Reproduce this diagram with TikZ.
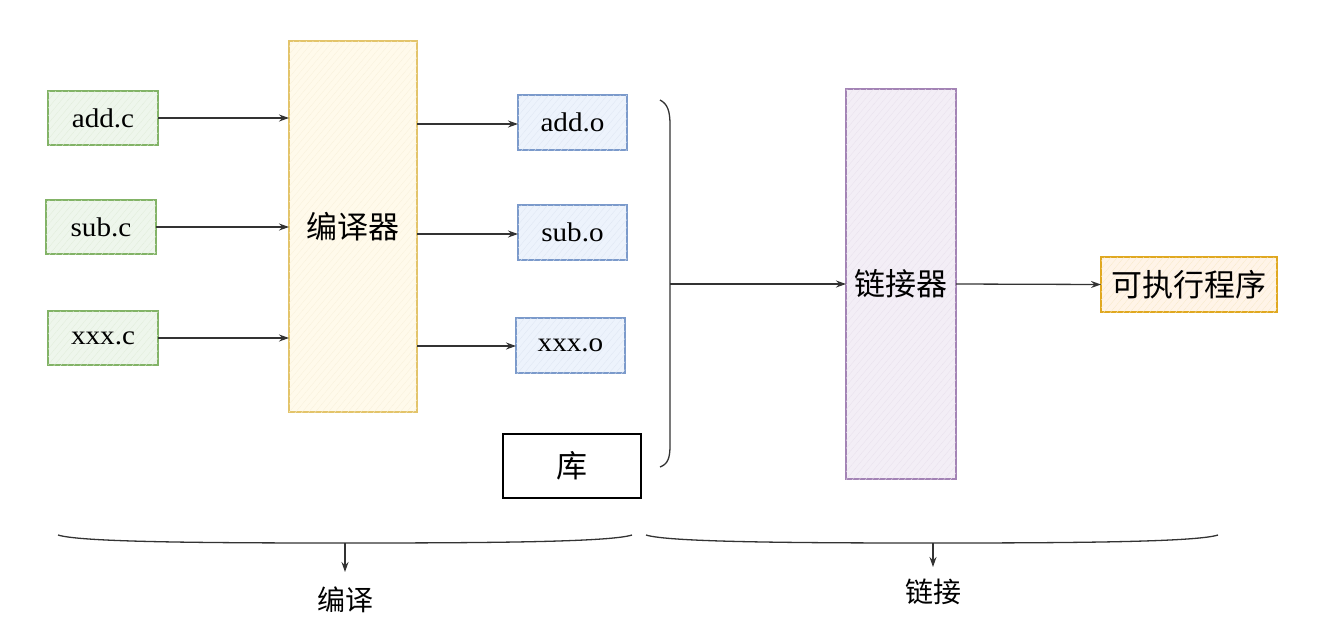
\documentclass[tikz,border=0pt]{standalone}
\usepackage{fontspec}
\newfontfamily\lat[FakeStretch=1.08]{Liberation Serif}
\newfontfamily\cjk{Noto Sans CJK SC}
\usetikzlibrary{arrows.meta,patterns.meta}
\definecolor{gB}{HTML}{82B366}\definecolor{gF}{HTML}{EEF6EC}
\definecolor{yB}{HTML}{E3C46A}\definecolor{yF}{HTML}{FFFAEB}
\definecolor{bB}{HTML}{7B9ACB}\definecolor{bF}{HTML}{EDF3FC}
\definecolor{pB}{HTML}{A383B5}\definecolor{pF}{HTML}{F3EEF6}
\definecolor{oB}{HTML}{E0A820}\definecolor{oF}{HTML}{FFF4E8}
\definecolor{ink}{HTML}{333333}
\tikzset{
  box/.style={draw=#1B, line width=1.3pt, fill=#1F, inner sep=0pt, outer sep=0pt,
     postaction={pattern={Lines[angle=50,distance=5pt,line width=0.3pt]}, pattern color=#1B!25}},
  srcbox/.style={box=g, minimum width=110pt, minimum height=54pt, font=\lat\fontsize{27}{30}\selectfont},
  objbox/.style={box=b, minimum width=109pt, minimum height=55pt, font=\lat\fontsize{27}{30}\selectfont},
  conn/.style={draw=ink, line width=1.3pt, -{Stealth[length=10pt,width=7pt]}},
  cjkt/.style={font=\cjk\fontsize{31}{34}\selectfont},
}
\begin{document}
\begin{tikzpicture}[x=1pt,y=-1pt]
\useasboundingbox (0,0) rectangle (1328,640);
% sources
\node[srcbox] (addc) at (103,118) {add.c};
\node[srcbox] (subc) at (101,227) {sub.c};
\node[srcbox] (xxxc) at (103,338) {xxx.c};
% compiler
\node[box=y, minimum width=128pt, minimum height=371pt, cjkt] (comp) at (353,226.5) {编译器};
% objects
\node[objbox] (addo) at (572.5,122.5) {add.o};
\node[objbox] (subo) at (572.5,232.5) {sub.o};
\node[objbox] (xxxo) at (570.5,345.5) {xxx.o};
% library
\node[draw=black, line width=1.4pt, fill=white, minimum width=138pt, minimum height=64pt, cjkt, inner sep=0pt] (lib) at (572,466) {库};
% linker
\node[box=p, minimum width=110pt, minimum height=390pt, cjkt] (link) at (901,284) {链接器};
% executable
\node[box=o, minimum width=176pt, minimum height=55pt, cjkt] (exe) at (1189,284.5) {可执行程序};
% arrows
\draw[conn] (addc.east) -- (comp.west |- addc.east);
\draw[conn] (subc.east) -- (comp.west |- subc.east);
\draw[conn] (xxxc.east) -- (comp.west |- xxxc.east);
\draw[conn] (comp.east |- 0,124) -- (addo.west |- 0,124);
\draw[conn] (comp.east |- 0,234) -- (subo.west |- 0,234);
\draw[conn] (comp.east |- 0,346) -- (xxxo.west |- 0,346);
% right brace
\coordinate (bt) at (670,284);
\draw[ink, line width=1.3pt] (660,100) .. controls (668,104) and (670,112) .. (670,125) -- (670,445) .. controls (670,458) and (668,464) .. (660,467);
\draw[conn] (bt) -- (link.west);
\draw[conn] (link.east) -- (exe.west);
% bottom braces
\coordinate (b1) at (345,543);
\coordinate (b2) at (933,543);
\draw[ink, line width=1.3pt] (58,535) .. controls (80,542) and (200,543) .. (b1) .. controls (490,543) and (610,542) .. (632,535);
\draw[ink, line width=1.3pt] (646,535) .. controls (668,542) and (790,543) .. (b2) .. controls (1075,543) and (1196,542) .. (1218,535);
\node[font=\cjk\fontsize{28}{32}\selectfont] (lc) at (345,600) {编译};
\node[font=\cjk\fontsize{28}{32}\selectfont] (ll) at (933,592) {链接};
\draw[conn] (b1) -- (345,572);
\draw[conn] (b2) -- (933,567);
\end{tikzpicture}
\end{document}
